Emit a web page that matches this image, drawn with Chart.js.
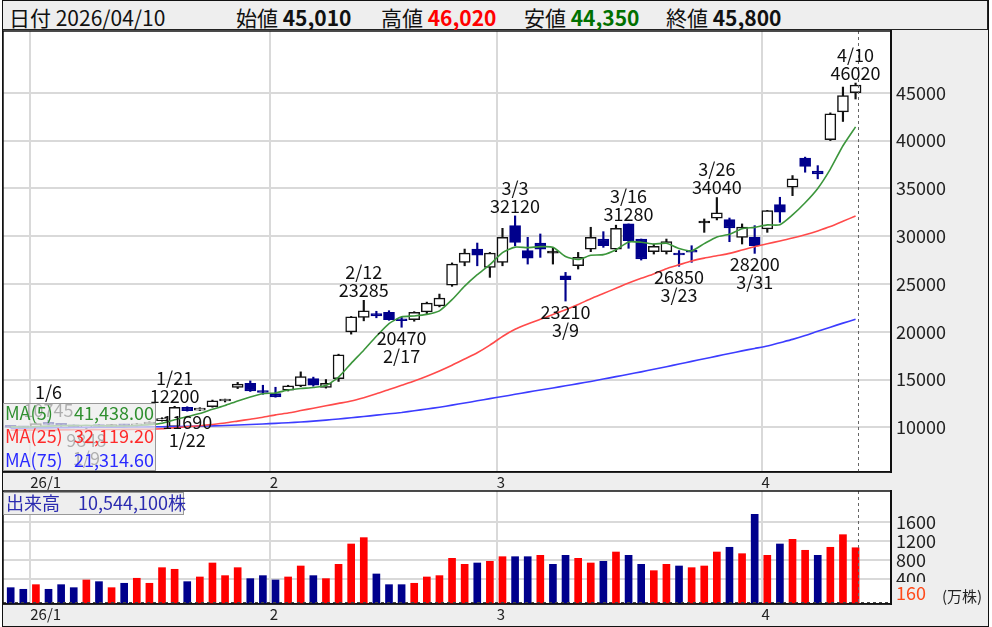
<!DOCTYPE html>
<html>
<head>
<meta charset="utf-8">
<script src="https://cdn.jsdelivr.net/npm/chart.js@4.4.1/dist/chart.umd.min.js"></script>
<style>
  body { margin: 0; background: #fff; font-family: "Noto Sans CJK JP", "Noto Sans", sans-serif; }
  #hdr { position: absolute; left: 2px; top: 0; width: 986px; height: 30px; box-sizing: border-box;
         background: #eeeeee; border: 1px solid #222; }
  .h { position: absolute; top: 1px; line-height: 30px; font-size: 21px; color: #111; white-space: nowrap; }
  .b { font-weight: bold; }
  canvas { position: absolute; }
  #frame { position: absolute; left: 2px; top: 0; width: 987px; height: 627px; box-sizing: border-box;
           border: 1.5px solid #111; pointer-events: none; }
</style>
</head>
<body>
<div id="hdr"></div>
<canvas id="price" width="986" height="460" style="left:2px;top:30px"></canvas>
<canvas id="volume" width="986" height="136" style="left:2px;top:490px"></canvas>
<div id="frame"></div>
<script>
// Daily data, 2025/12/29 .. 2026/04/10 (68 trading days)
const PREV_CLOSE = 10080;
const OPEN = [10080,10000,10000,10450,10300,10200,10000,10200,10080,10250,
  10150,10350,10700,10060,12080,11800,12150,12750,14160,14610,
  13800,13530,13880,14330,15100,14160,15100,19990,21500,21910,
  22020,21250,21250,22080,22710,24880,27250,28650,26720,27250,
  31100,28480,29280,28230,25860,26900,28650,29700,28650,31280,
  29700,28380,28380,28230,28500,31380,31870,31730,29880,29880,
  30750,33300,35120,38160,36800,40100,43000,45010];
const HIGH = [10200,10100,10450,10745,10380,10250,10200,10300,10300,10320,
  10400,10600,11000,12200,12150,12050,12850,12950,14700,14850,
  14400,14190,14400,15800,15250,15000,17650,21600,23285,22140,
  22200,21500,22100,23100,23940,27200,28650,29280,28300,30820,
  32120,29880,30230,28830,26210,28300,30930,30470,31150,31280,
  29700,29180,29700,28490,29000,31800,34040,31900,31280,31100,
  32700,34070,36340,38270,37380,42900,45600,46020];
const LOW = [9950,9900,9980,10250,10100,9950,9848,10000,10050,10100,
  10120,10300,10650,10000,11690,11750,12100,12650,14050,13750,
  13460,13150,13800,14250,14300,14100,14800,19750,21140,21460,
  21200,20470,21100,21900,22600,24750,26900,26900,25690,26900,
  29000,27080,27780,27080,23210,26560,28380,28830,28380,28730,
  27500,28130,28130,26850,27260,30400,31700,29420,29180,28200,
  30400,31450,34240,36690,36000,40000,42000,44350];
const CLOSE = [10000,9950,10400,10300,10200,10050,10150,10080,10250,10150,
  10350,10550,10850,12100,11740,11950,12780,12820,14530,13800,
  13640,13180,14330,15310,14400,14610,17580,21560,22190,21660,
  21250,21150,22020,22990,23520,27080,28230,28020,28230,29870,
  29350,27710,28650,28230,25440,27780,29880,29000,30820,29520,
  27610,28930,29420,28030,28320,31380,32430,30850,30950,29000,
  32670,32500,35990,37300,36500,42800,44700,45800];
// volume in 万株
const VOLUME = [218,184,281,184,281,218,379,344,218,310,
  415,310,637,603,344,442,735,470,637,407,
  470,379,442,672,470,407,707,1133,1266,505,
  281,281,310,442,470,833,707,735,770,867,
  867,867,896,707,896,833,735,770,965,896,
  707,574,707,672,637,672,965,1064,930,1755,
  896,1133,1231,1001,896,1064,1328,1054.41];
const MA5 = [10050,10030,10080,10120,10170,10180,10220,10156,10146,10136,
  10196,10276,10430,10800,11118,11438,11884,12278,12764,13176,
  13514,13594,13896,14052,14172,14366,15246,16692,18068,19520,
  20848,21562,21654,21814,22186,23352,24768,25968,27016,28286,
  28850,28800,28900,28850,27876,27562,27996,28066,28584,29400,
  29366,29176,29260,28702,28462,29216,29916,30202,30786,30922,
  31180,31194,32222,33492,34992,37018,39458,41438];
const MA25 = [9700,9700,9710,9720,9730,9740,9750,9760,9770,9780,
  9790,9800,9850,9950,10050,10170,10300,10450,10650,10850,
  11050,11300,11500,11750,12000,12250,12500,12750,13100,13500,
  13950,14400,14850,15350,15900,16500,17150,17800,18600,19500,
  20250,20800,21300,21800,22300,22850,23450,24000,24550,25100,
  25600,26050,26600,27000,27400,27700,27950,28200,28550,28900,
  29200,29500,29800,30150,30550,31000,31550,32119.2];
const MA75 = [9900,9915,9930,9945,9960,9975,9990,10000,10010,10020,
  10030,10045,10060,10080,10100,10125,10150,10190,10240,10290,
  10350,10410,10480,10550,10650,10750,10870,11000,11130,11270,
  11410,11550,11730,11910,12100,12320,12540,12770,13000,13220,
  13450,13680,13900,14120,14340,14570,14800,15050,15300,15550,
  15800,16070,16340,16620,16900,17170,17450,17720,18000,18250,
  18500,18850,19200,19600,20050,20480,20900,21314.6];

const MONTH_START = [2, 21, 39, 60];        // index of first trading day of each month
const MONTH_LABELS = ['26/1', '2', '3', '4'];
const PRICE_TICKS = [10000, 15000, 20000, 25000, 30000, 35000, 40000, 45000];
const VOL_TICKS = [400, 800, 1200, 1600];
const DATE_LABEL = '2026/04/10';

// highs / lows marked on the chart
const NOTES = [
  {i: 3, at: 'high', date: '1/6'},
  {i: 6, at: 'low', date: '1/9'},
  {i: 13, at: 'high', date: '1/21'},
  {i: 14, at: 'low', date: '1/22'},
  {i: 28, at: 'high', date: '2/12'},
  {i: 31, at: 'low', date: '2/17'},
  {i: 40, at: 'high', date: '3/3'},
  {i: 44, at: 'low', date: '3/9'},
  {i: 49, at: 'high', date: '3/16'},
  {i: 53, at: 'low', date: '3/23'},
  {i: 56, at: 'high', date: '3/26'},
  {i: 59, at: 'low', date: '3/31'},
  {i: 67, at: 'high', date: '4/10'}
];

// Colors
const NAVY = '#00008c';
const UP_RED = '#ff0000';
const FONT = '"Noto Sans CJK JP", "Noto Sans", sans-serif';
const GRID = '#d9d9d9';

const last = OPEN.length - 1;
const fmt = v => v.toLocaleString('en-US');

// Header
const hdr = document.getElementById('hdr');
hdr.innerHTML =
  `<span class="h" style="left:6px">日付 ${DATE_LABEL}</span>` +
  `<span class="h" style="left:233px">始値 <span class="b">${fmt(OPEN[last])}</span></span>` +
  `<span class="h" style="left:378px">高値 <span class="b" style="color:#ff0000">${fmt(HIGH[last])}</span></span>` +
  `<span class="h" style="left:521px">安値 <span class="b" style="color:#007000">${fmt(LOW[last])}</span></span>` +
  `<span class="h" style="left:663px">終値 <span class="b">${fmt(CLOSE[last])}</span></span>`;

Chart.defaults.font.family = FONT;
Chart.defaults.color = '#222';

const idx = OPEN.map((_, i) => i);
const isUp = i => CLOSE[i] > OPEN[i];
const isDown = i => CLOSE[i] < OPEN[i];

// no extra layout padding from tick labels
function noPad(a) {
  a.paddingTop = 0; a.paddingBottom = 0; a.paddingLeft = 0; a.paddingRight = 0;
}

// shared x axis
function xAxis(stripHeight) {
  return {
    type: 'linear', min: -0.61, max: 69.81, bounds: 'data', offset: false,
    grid: {color: GRID, lineWidth: 2, drawTicks: false, offset: false},
    border: {display: true, color: '#111', width: 1.5},
    ticks: {align: 'start', padding: 1, font: {size: 15}, autoSkip: false, maxRotation: 0,
            callback: (v, k) => MONTH_LABELS[k]},
    afterBuildTicks: a => { a.ticks = MONTH_START.map(i => ({value: i - 0.45})); },
    afterFit: a => { a.height = stripHeight; noPad(a); }
  };
}

function yAxis(min, max, ticks) {
  return {
    type: 'linear', position: 'right', min: min, max: max, bounds: 'data',
    grid: {color: GRID, lineWidth: 2, drawTicks: false},
    border: {display: true, color: '#111', width: 2},
    ticks: {padding: 5, font: {size: 18}, callback: v => String(v)},
    afterBuildTicks: a => { a.ticks = ticks.map(v => ({value: v})); },
    afterFit: a => { a.width = 97; noPad(a); }
  };
}

const panel = {
  id: 'panel',
  beforeDraw(chart) {
    const {ctx, chartArea: a} = chart;
    ctx.save();
    ctx.fillStyle = '#eeeeee';
    ctx.fillRect(0, 0, chart.width, chart.height);
    ctx.fillStyle = '#ffffff';
    ctx.fillRect(a.left, a.top, a.right - a.left, a.bottom - a.top);
    ctx.restore();
  },
  afterDatasetsDraw(chart) {
    const {ctx, chartArea: a} = chart;
    const x = Math.round(chart.scales.x.getPixelForValue(last + 0.2)) + 0.5;
    ctx.save();
    ctx.strokeStyle = '#666';
    ctx.lineWidth = 1;
    ctx.setLineDash([3, 3]);
    ctx.beginPath();
    ctx.moveTo(x, a.top);
    ctx.lineTo(x, a.bottom);
    ctx.stroke();
    ctx.restore();
  },
  afterDraw(chart) {
    const {ctx, chartArea: a} = chart;
    ctx.save();
    ctx.strokeStyle = '#111';
    ctx.lineWidth = 1.5;
    ctx.strokeRect(a.left, a.top, a.right - a.left, a.bottom - a.top);
    ctx.restore();
  }
};

// high / low notes and MA legend
const notes = {
  id: 'notes',
  afterDatasetsDraw(chart) {
    const {ctx} = chart;
    const xs = chart.scales.x, ys = chart.scales.y;
    ctx.save();
    ctx.font = '18px ' + FONT;
    ctx.fillStyle = '#111';
    ctx.textAlign = 'center';
    ctx.textBaseline = 'middle';
    NOTES.forEach(n => {
      const x = xs.getPixelForValue(n.i);
      if (n.at === 'high') {
        const y = ys.getPixelForValue(HIGH[n.i]);
        ctx.fillText(n.date, x, y - 28);
        ctx.fillText(String(HIGH[n.i]), x, y - 10);
      } else {
        const y = ys.getPixelForValue(LOW[n.i]);
        ctx.fillText(String(LOW[n.i]), x, y + 11);
        ctx.fillText(n.date, x, y + 29);
      }
    });
    ctx.restore();
  },
  afterDraw(chart) {
    const {ctx, chartArea: a} = chart;
    const rows = [
      ['MA(5)', MA5[last], '#2f8f2f'],
      ['MA(25)', MA25[last], '#ff2a2a'],
      ['MA(75)', MA75[last], '#2a2aff']
    ];
    ctx.save();
    ctx.fillStyle = 'rgba(236,236,236,0.72)';
    ctx.fillRect(a.left, a.top + 372, 152, 67);
    ctx.strokeStyle = '#999';
    ctx.lineWidth = 1;
    ctx.strokeRect(a.left + 0.5, a.top + 372.5, 152, 67);
    ctx.font = '18px ' + FONT;
    ctx.textBaseline = 'middle';
    rows.forEach((r, k) => {
      const y = a.top + 382 + k * 23.5;
      ctx.fillStyle = r[2];
      ctx.textAlign = 'left';
      ctx.fillText(r[0], a.left + 2, y);
      ctx.textAlign = 'right';
      ctx.fillText(r[1].toLocaleString('en-US', {minimumFractionDigits: 2, maximumFractionDigits: 2}), a.left + 151, y);
    });
    ctx.restore();
  }
};

new Chart(document.getElementById('price'), {
  type: 'bar',
  data: {
    datasets: [
      {
        type: 'line', data: idx.map(i => ({x: i, y: MA5[i]})), order: 0,
        borderColor: '#3c963c', borderWidth: 1.6, pointRadius: 0, tension: 0.2
      },
      {
        type: 'line', data: idx.map(i => ({x: i, y: MA25[i]})), order: 0,
        borderColor: '#ff4a4a', borderWidth: 1.6, pointRadius: 0, tension: 0.2
      },
      {
        type: 'line', data: idx.map(i => ({x: i, y: MA75[i]})), order: 0,
        borderColor: '#3c3cff', borderWidth: 1.6, pointRadius: 0, tension: 0.2
      },
      {
        // candle bodies
        data: idx.map(i => ({x: i, y: [OPEN[i], CLOSE[i]]})), order: 1,
        grouped: false, barThickness: 11, minBarLength: 2, borderSkipped: false,
        borderWidth: 1.5,
        backgroundColor: idx.map(i => isUp(i) ? '#ffffff' : (isDown(i) ? NAVY : '#111')),
        borderColor: idx.map(i => isDown(i) ? NAVY : '#111')
      },
      {
        // wicks
        data: idx.map(i => ({x: i, y: [LOW[i], HIGH[i]]})), order: 2,
        grouped: false, barThickness: 1.5, borderWidth: 0,
        backgroundColor: idx.map(i => isDown(i) ? NAVY : '#111')
      }
    ]
  },
  options: {
    responsive: false, animation: false,
    layout: {padding: {top: 1, left: 1, right: 0, bottom: 0}},
    plugins: {legend: {display: false}, tooltip: {enabled: false}},
    scales: {
      x: xAxis(18),
      y: yAxis(5323, 51467, PRICE_TICKS)
    }
  },
  plugins: [panel, notes]
});

const VOL_AXIS_MIN = -124;
const volExtras = {
  id: 'volExtras',
  afterDatasetsDraw(chart) {
    const {ctx, chartArea: a} = chart;
    ctx.save();
    ctx.strokeStyle = '#444';
    ctx.lineWidth = 1;
    ctx.setLineDash([3, 3]);
    ctx.beginPath();
    ctx.moveTo(a.left, a.bottom - 1.5);
    ctx.lineTo(a.right, a.bottom - 1.5);
    ctx.stroke();
    ctx.restore();
  },
  afterDraw(chart) {
    const {ctx, chartArea: a} = chart;
    ctx.save();
    // volume caption
    ctx.fillStyle = '#eeeeee';
    ctx.fillRect(a.left, a.top + 1, 180, 22);
    ctx.strokeStyle = '#999';
    ctx.lineWidth = 1;
    ctx.strokeRect(a.left + 0.5, a.top + 1.5, 180, 22);
    ctx.font = '18px ' + FONT;
    ctx.textBaseline = 'middle';
    ctx.textAlign = 'left';
    ctx.fillStyle = '#2b2bb0';
    ctx.fillText('出来高\u3000' + fmt(Math.round(VOLUME[last] * 10000)) + '株', a.left + 3, a.top + 12.5);
    // unit box
    ctx.fillStyle = '#eeeeee';
    ctx.fillRect(a.right + 1.5, a.top + 91, 95, 21);
    ctx.fillStyle = '#ff4a1a';
    ctx.fillText('160', a.right + 5, a.top + 102);
    ctx.font = '15px ' + FONT;
    ctx.fillStyle = '#222';
    ctx.fillText('(万株)', a.right + 51, a.top + 105);
    ctx.restore();
  }
};

new Chart(document.getElementById('volume'), {
  type: 'bar',
  data: {
    datasets: [{
      data: idx.map(i => ({x: i, y: VOLUME[i]})),
      base: VOL_AXIS_MIN, grouped: false, barThickness: 7, borderWidth: 0,
      backgroundColor: idx.map(i => CLOSE[i] > (i ? CLOSE[i - 1] : PREV_CLOSE) ? UP_RED : NAVY)
    }]
  },
  options: {
    responsive: false, animation: false,
    layout: {padding: {top: 1, left: 1, right: 0, bottom: 0}},
    plugins: {legend: {display: false}, tooltip: {enabled: false}},
    scales: {
      x: xAxis(22),
      y: yAxis(VOL_AXIS_MIN, 2243, VOL_TICKS)
    }
  },
  plugins: [panel, volExtras]
});
</script>
</body>
</html>
